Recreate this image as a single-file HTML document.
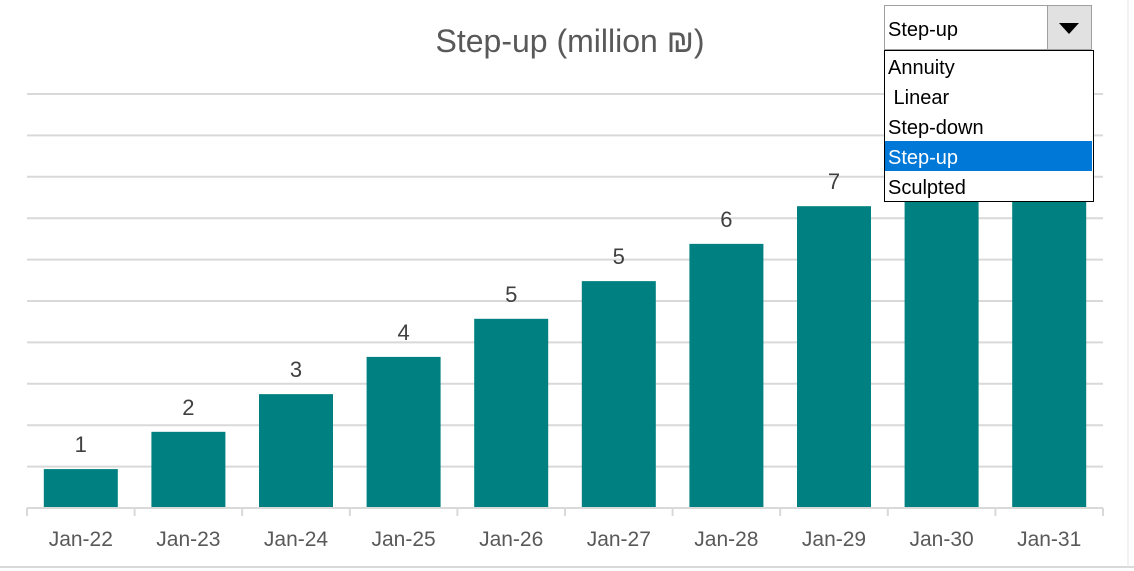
<!DOCTYPE html>
<html><head><meta charset="utf-8"><style>
body{margin:0;background:#fff;width:1134px;height:571px;overflow:hidden;font-family:"Liberation Sans",sans-serif}
#dd{position:absolute;left:884px;top:5px;width:208px;height:45px;border:1px solid #a0a0a0;background:#fff;box-sizing:border-box}
#ddtxt{position:absolute;left:3px;top:13px;font-size:20px;color:#000}
#ddbtn{position:absolute;right:0;top:0;width:43px;height:43px;background:#e1e1e1;border-left:1px solid #a0a0a0}
#list{position:absolute;left:884px;top:50px;width:210px;height:152px;border:1px solid #000;background:#fff;box-sizing:border-box}
.it{height:30px;line-height:34px;font-size:20px;padding-left:3px;color:#000}
.sel{background:#0078d7;color:#fff;margin-right:1px}
</style></head><body>
<svg id="chart" width="1134" height="571" style="position:absolute;left:0;top:0">
<line x1="0" y1="567" x2="1134" y2="567" stroke="#d9d9d9" stroke-width="2"/>
<line x1="1128" y1="0" x2="1128" y2="567" stroke="#e6e6e6" stroke-width="1"/>
<text x="570" y="52" text-anchor="middle" font-size="32" fill="#595959" font-family="Liberation Sans, DejaVu Sans, sans-serif">Step-up (million ₪)</text>
<g id="grid"></g><g id="bars"></g><g id="axis"></g>
</svg>
<div id="dd"><span id="ddtxt">Step-up</span><div id="ddbtn"><svg width="43" height="43"><polygon points="11,17 31,17 21,28" fill="#000"/></svg></div></div>
<div id="list">
<div class="it">Annuity</div>
<div class="it">&nbsp;Linear</div>
<div class="it">Step-down</div>
<div class="it sel">Step-up</div>
<div class="it">Sculpted</div>
</div>
<script>
const categories=["Jan-22","Jan-23","Jan-24","Jan-25","Jan-26","Jan-27","Jan-28","Jan-29","Jan-30","Jan-31"];
const values=[0.94,1.84,2.75,3.65,4.57,5.48,6.38,7.29,8.2,9.1];
const gridTicks=[0,1,2,3,4,5,6,7,8,9,10];
const NS="http://www.w3.org/2000/svg";
const x0=27,x1=1103,yBase=508,unit=41.4;
const band=(x1-x0)/categories.length;
const y=v=>yBase-v*unit;
const xc=i=>x0+band*(i+0.5);
function mk(t,a,p){const e=document.createElementNS(NS,t);for(const k in a)e.setAttribute(k,a[k]);p.appendChild(e);return e;}
const G=document.getElementById('grid'),B=document.getElementById('bars'),A=document.getElementById('axis');
gridTicks.forEach(t=>{if(t===0)return;const l=mk('line',{x1:x0,x2:x1,y1:y(t),y2:y(t),stroke:'#d9d9d9','stroke-width':2},G);

});
const ax=mk('line',{x1:x0,x2:x1,y1:yBase,y2:yBase,stroke:'#d9d9d9','stroke-width':2},A);


for(let i=0;i<=categories.length;i++){const tk=mk('line',{x1:x0+band*i,x2:x0+band*i,y1:yBase,y2:yBase+8,stroke:'#d9d9d9','stroke-width':2},A);

}
categories.forEach((c,i)=>{
const w=74;
const r=mk('rect',{x:xc(i)-w/2,y:y(values[i]),width:w,height:yBase-y(values[i]),fill:'#008080'},B);


const lb=mk('text',{x:xc(i),y:y(values[i])-17,'text-anchor':'middle','font-size':22,fill:'#404040'},B);
lb.textContent=Math.round(values[i]);


const tl=mk('text',{x:xc(i),y:546,'text-anchor':'middle','font-size':21,fill:'#595959'},A);
tl.textContent=c;


});
</script>
</body></html>
